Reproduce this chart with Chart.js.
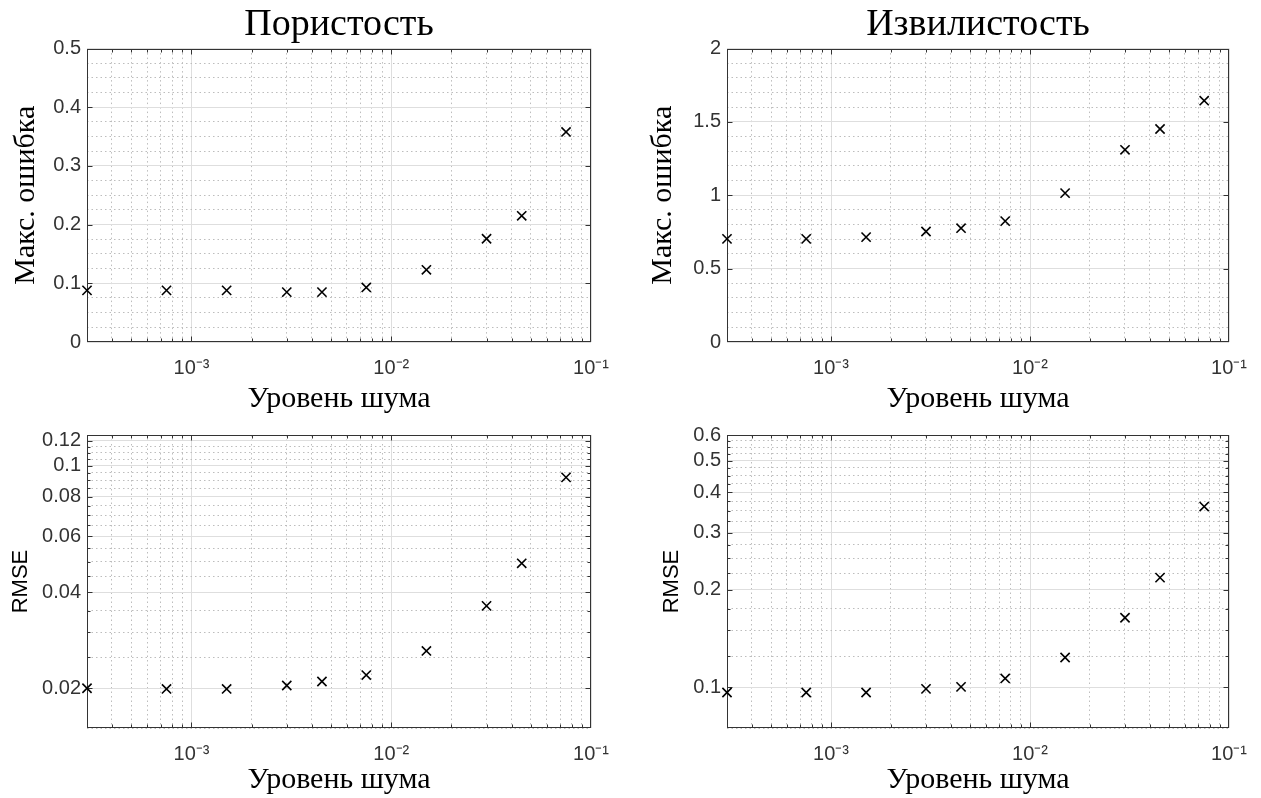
<!DOCTYPE html>
<html>
<head>
<meta charset="utf-8">
<title>Ошибка оценки vs уровень шума</title>
<script src="https://cdn.jsdelivr.net/npm/chart.js@4/dist/chart.umd.min.js"></script>
<style>
  html, body { margin: 0; padding: 0; background: #fff; }
  body { width: 1261px; height: 798px; position: relative; overflow: hidden; }
  .panel { position: absolute; }
</style>
</head>
<body>
<div class="panel" style="left:0;top:0;width:630px;height:418px"><canvas id="porosity-max"></canvas></div>
<div class="panel" style="left:630px;top:0;width:631px;height:418px"><canvas id="tortuosity-max"></canvas></div>
<div class="panel" style="left:0;top:415px;width:630px;height:386px"><canvas id="porosity-rmse"></canvas></div>
<div class="panel" style="left:630px;top:415px;width:631px;height:386px"><canvas id="tortuosity-rmse"></canvas></div>

<script>
// noise levels used in the runs
const noiseLevels = [0.0003, 0.00075, 0.0015, 0.003, 0.0045, 0.0075, 0.015, 0.03, 0.045, 0.075];

// max error
const porosityMaxErr   = [0.088, 0.088, 0.088, 0.085, 0.085, 0.093, 0.123, 0.176, 0.215, 0.358];
const tortuosityMaxErr = [0.703, 0.703, 0.715, 0.753, 0.776, 0.824, 1.015, 1.310, 1.452, 1.645];

// rmse
const porosityRmse   = [0.0200, 0.0199, 0.0199, 0.0204, 0.0210, 0.0220, 0.0262, 0.0363, 0.0494, 0.0920];
const tortuosityRmse = [0.0965, 0.0965, 0.0965, 0.0990, 0.1004, 0.1066, 0.1237, 0.1640, 0.2180, 0.3610];

// labelled ticks
const noiseTicks = [0.001, 0.01, 0.1];
const noiseTickLabels = ['10⁻³', '10⁻²', '10⁻¹'];
const porosityMaxTicks = [0, 0.1, 0.2, 0.3, 0.4, 0.5];
const tortuosityMaxTicks = [0, 0.5, 1, 1.5, 2];
const porosityRmseTicks = [0.02, 0.04, 0.06, 0.08, 0.1, 0.12];
const tortuosityRmseTicks = [0.1, 0.2, 0.3, 0.4, 0.5, 0.6];

const axisColor = '#333333';
const majorGrid = '#dedede';
const minorGrid = '#bdbdbd';
const serif = "'Liberation Serif', 'Times New Roman', serif";
const sans = "'Liberation Sans', Arial, sans-serif";

const near = (a, b) => Math.abs(a - b) < 1e-9;

// evenly spaced tick values (minor grid), majors flagged
function stepTicks(min, max, step, majors) {
    const out = [];
    const n = Math.round((max - min) / step);
    for (let i = 0; i <= n; i++) {
        const v = +(min + i * step).toFixed(6);
        out.push({ value: v, major: majors.some(m => near(m, v)) });
    }
    return out;
}

// 1..9 x 10^k ticks for a log axis
function decadeTicks(min, max, majors) {
    const out = [];
    for (let e = Math.floor(Math.log10(min)); e <= Math.ceil(Math.log10(max)); e++) {
        for (let m = 1; m <= 9; m++) {
            const v = +(m * Math.pow(10, e)).toPrecision(6);
            if (v >= min * 0.999999 && v <= max * 1.000001) {
                out.push({ value: v, major: majors.some(t => near(t, v)) });
            }
        }
    }
    return out;
}

function labeller(majors, labels) {
    return value => {
        const k = majors.findIndex(m => near(m, value));
        return k >= 0 ? labels[k] : '';
    };
}

// gridlines: solid for majors, dotted for minors
const gridColor = ctx => (ctx.tick && ctx.tick.major) ? majorGrid : minorGrid;
const gridDash = ctx => (ctx.tick && !ctx.tick.major) ? [1.5, 3] : [];

// axes box with inward tick marks on all four sides
const frame = {
    id: 'frame',
    beforeDatasetsDraw(chart, args, opts) {
        const { ctx, chartArea: a, scales } = chart;
        const L = Math.round(a.left) + 0.5, R = Math.round(a.right) - 0.5;
        const T = Math.round(a.top) + 0.5, B = Math.round(a.bottom) - 0.5;
        ctx.save();
        ctx.strokeStyle = axisColor;
        ctx.lineWidth = 1;
        ctx.beginPath();
        scales.x.ticks.forEach(t => {
            if (!t.major && !opts.minorX) return;
            const len = t.major ? 5 : 3;
            const p = Math.round(scales.x.getPixelForValue(t.value)) + 0.5;
            if (p <= L + 1 || p >= R - 1) return;
            ctx.moveTo(p, B); ctx.lineTo(p, B - len);
            ctx.moveTo(p, T); ctx.lineTo(p, T + len);
        });
        scales.y.ticks.forEach(t => {
            if (!t.major && !opts.minorY) return;
            const len = t.major ? 5 : 3;
            const p = Math.round(scales.y.getPixelForValue(t.value)) + 0.5;
            if (p <= T + 1 || p >= B - 1) return;
            ctx.moveTo(L, p); ctx.lineTo(L + len, p);
            ctx.moveTo(R, p); ctx.lineTo(R - len, p);
        });
        ctx.stroke();
        ctx.strokeRect(L, T, R - L, B - T);
        ctx.restore();
    }
};

function makeChart(id, p) {
    return new Chart(document.getElementById(id), {
        type: 'scatter',
        data: {
            datasets: [{
                data: noiseLevels.map((x, i) => ({ x: x, y: p.values[i] })),
                pointStyle: 'crossRot',
                pointRadius: 6.5,
                pointHoverRadius: 6.5,
                borderColor: '#000',
                backgroundColor: '#000',
                pointBorderWidth: 1.6,
                showLine: false,
                clip: false
            }]
        },
        options: {
            responsive: true,
            maintainAspectRatio: false,
            animation: false,
            events: [],
            layout: { padding: { top: p.padTop, right: p.padRight, left: 0, bottom: 0 } },
            scales: {
                x: {
                    type: 'logarithmic',
                    min: 0.0003,
                    max: 0.1,
                    afterBuildTicks: s => { s.ticks = decadeTicks(0.0003, 0.1, noiseTicks); },
                    afterFit: s => { s.height = p.xHeight; },
                    border: { display: false, dash: gridDash },
                    grid: { color: gridColor, lineWidth: 1, drawTicks: false },
                    ticks: {
                        autoSkip: false,
                        maxRotation: 0,
                        padding: p.xTickPad,
                        color: axisColor,
                        font: { family: sans, size: 20 },
                        callback: labeller(noiseTicks, noiseTickLabels)
                    },
                    title: {
                        display: true,
                        text: 'Уровень шума',
                        color: '#000',
                        font: { family: serif, size: 30, lineHeight: 1.2 },
                        padding: { top: 0, bottom: p.xTitlePad }
                    }
                },
                y: {
                    type: p.yType,
                    min: p.yMin,
                    max: p.yMax,
                    afterBuildTicks: s => { s.ticks = stepTicks(p.yMin, p.yMax, p.yStep, p.yTicks); },
                    afterFit: s => { s.width = p.yWidth; },
                    border: { display: false, dash: gridDash },
                    grid: { color: gridColor, lineWidth: 1, drawTicks: false },
                    ticks: {
                        autoSkip: false,
                        padding: 6,
                        color: axisColor,
                        font: { family: sans, size: 20 },
                        callback: labeller(p.yTicks, p.yTicks.map(String))
                    },
                    title: {
                        display: true,
                        text: p.yLabel,
                        color: '#000',
                        font: p.yLabelFont,
                        padding: { top: p.yTitlePad, bottom: 0 }
                    }
                }
            },
            plugins: {
                legend: { display: false },
                tooltip: { enabled: false },
                title: {
                    display: !!p.title,
                    text: p.title || '',
                    fullSize: false,
                    color: '#000',
                    font: { family: serif, size: 38, weight: 'normal', lineHeight: 1.2 },
                    padding: { top: 2, bottom: 1 }
                },
                frame: { minorX: true, minorY: p.yType === 'logarithmic' }
            }
        },
        plugins: [frame]
    });
}

const maxLabelFont = { family: serif, size: 30, lineHeight: 1.2 };
const rmseLabelFont = { family: sans, size: 22, lineHeight: 1.2 };

makeChart('porosity-max', {
    title: 'Пористость', values: porosityMaxErr,
    yType: 'linear', yMin: 0, yMax: 0.5, yStep: 0.025, yTicks: porosityMaxTicks,
    yLabel: 'Макс. ошибка', yLabelFont: maxLabelFont, yTitlePad: 8,
    padTop: 0, padRight: 39, yWidth: 87, xHeight: 76, xTickPad: 14, xTitlePad: 1
});

makeChart('tortuosity-max', {
    title: 'Извилистость', values: tortuosityMaxErr,
    yType: 'linear', yMin: 0, yMax: 2, yStep: 0.1, yTicks: tortuosityMaxTicks,
    yLabel: 'Макс. ошибка', yLabelFont: maxLabelFont, yTitlePad: 15,
    padTop: 0, padRight: 30, yWidth: 97, xHeight: 76, xTickPad: 14, xTitlePad: 1
});

makeChart('porosity-rmse', {
    values: porosityRmse,
    yType: 'logarithmic', yMin: 0.015, yMax: 0.125, yStep: 0.005, yTicks: porosityRmseTicks,
    yLabel: 'RMSE', yLabelFont: rmseLabelFont, yTitlePad: 8,
    padTop: 20, padRight: 39, yWidth: 87, xHeight: 73, xTickPad: 14, xTitlePad: 3
});

makeChart('tortuosity-rmse', {
    values: tortuosityRmse,
    yType: 'logarithmic', yMin: 0.075, yMax: 0.6, yStep: 0.025, yTicks: tortuosityRmseTicks,
    yLabel: 'RMSE', yLabelFont: rmseLabelFont, yTitlePad: 29,
    padTop: 20, padRight: 30, yWidth: 97, xHeight: 73, xTickPad: 14, xTitlePad: 3
});
</script>
</body>
</html>
